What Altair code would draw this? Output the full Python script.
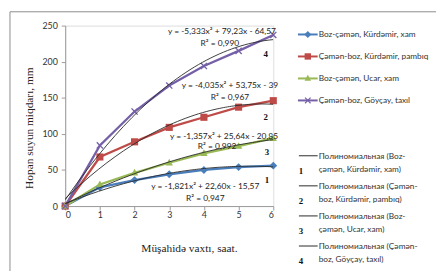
import altair as alt
import pandas as pd

# ---- data ----
hours = [0, 1, 2, 3, 4, 5, 6]
series = ["Boz-çəmən, Kürdəmir, xam", "Çəmən-boz, Kürdəmir, pambıq",
          "Boz-çəmən, Ucar, xam", "Çəmən-boz, Göyçay, taxıl"]
s1 = [0, 26, 36, 44, 50, 54, 56]
s2 = [0, 68, 89, 109, 123, 137, 146]
s3 = [0, 30, 46, 60, 73, 83, 94]
s4 = [0, 84, 131, 167, 194, 215, 237]
values = [s1, s2, s3, s4]
trend_names = ["Полиномиальная (" + s + ")" for s in series]
colors = ["#4a7ebb", "#be4b48", "#98b954", "#7560a8"]
y_ticks = [0, 50, 100, 150, 200, 250]

eq_texts = ["y = -5,333x² + 79,23x - 64,57", "R² = 0,990",
            "y = -4,035x² + 53,75x - 39", "R² = 0,967",
            "y = -1,357x² + 25,64x - 20,85", "R² = 0,992",
            "y = -1,821x² + 22,60x - 15,57", "R² = 0,947"]
eq_x = [4.52, 4.46, 4.75, 4.75, 4.58, 4.38, 4.04, 4.04]
eq_y = [243, 226, 167, 151, 97, 83, 28, 11]
num_texts = ["4", "2", "3", "1"]
num_x = [5.78, 5.78, 5.82, 5.82]
num_y = [210, 123, 75, 36]
leg_nums = ["1", "2", "3", "4"]
x_title = "Müşahidə vaxtı, saat."
y_title = "Hopan suyun miqdarı, mm"

rows = []
for name, tname, vals in zip(series, trend_names, values):
    for h, v in zip(hours, vals):
        rows.append({"hour": h, "value": v, "series": name, "trend": tname})
df = pd.DataFrame(rows)
eq_df = pd.DataFrame({"t": eq_texts, "hour": eq_x, "value": eq_y})
num_df = pd.DataFrame({"t": num_texts, "hour": num_x, "value": num_y})

# marker shapes
shape_paths = [
    "M0,-1L1,0L0,1L-1,0Z",
    "M-1,-1L1,-1L1,1L-1,1Z",
    "M0,-1.05L0.95,0.7L-0.95,0.7Z",
    "M-1,-0.74L-0.74,-1L0,-0.26L0.74,-1L1,-0.74L0.26,0L1,0.74L0.74,1L0,0.26L-0.74,1L-1,0.74L-0.26,0Z",
]
marker_sizes = [64, 52, 60, 52]

W, H = 211, 183
SANS = "Lato"
SERIF = "Liberation Serif"
ONE = alt.Data(values=[{"a": 1}])

xenc = alt.X("hour:Q", scale=alt.Scale(domain=[0, 6], nice=False),
             axis=alt.Axis(values=hours, format="d", grid=False, domainColor="#9a9a9a",
                           tickColor="#9a9a9a", tickSize=4, labelFont=SANS, labelFontSize=9,
                           labelColor="#333", labelPadding=1, labelOverlap=False, title=None))
yenc = alt.Y("value:Q", scale=alt.Scale(domain=[0, 250], nice=False),
             axis=alt.Axis(values=y_ticks, grid=False, domainColor="#9a9a9a",
                           tickColor="#9a9a9a", tickSize=4, labelFont=SANS, labelFontSize=9,
                           labelColor="#333", labelPadding=4, labelOverlap=False, title=None))

base = alt.Chart(df)

frame = alt.Chart(ONE).mark_rect(
    fill=None, stroke="#8c8c8c", strokeWidth=1, clip=False
).encode(x=alt.value(-56), x2=alt.value(420), y=alt.value(-14), y2=alt.value(400))

lines = base.mark_line(strokeWidth=2.3).encode(
    x=xenc, y=yenc,
    color=alt.Color("series:N", scale=alt.Scale(domain=series, range=colors), legend=None),
)

point_layers = []
for name, col, path, sz in zip(series, colors, shape_paths, marker_sizes):
    point_layers.append(
        base.transform_filter(alt.datum.series == name).mark_point(
            filled=True, size=sz, shape=path, color=col, opacity=1, strokeWidth=0
        ).encode(x=xenc, y=yenc)
    )

trend = base.transform_regression(
    "hour", "value", groupby=["series", "trend"], method="poly", order=2
).mark_line(color="#2a2a2a", strokeWidth=0.9, clip=True).encode(
    x=xenc, y=yenc, detail="trend:N")

eqs = alt.Chart(eq_df).mark_text(font=SANS, fontSize=8.5, color="#222").encode(
    x=xenc, y=yenc, text="t:N")
nums = alt.Chart(num_df).mark_text(font=SERIF, fontSize=9, fontWeight="bold",
                                   color="#111").encode(x=xenc, y=yenc, text="t:N")

titles = [
    alt.Chart(ONE).mark_text(text=x_title, font=SERIF, fontSize=11.5, color="#222",
                             align="center", baseline="middle", clip=False).encode(
        x=alt.value(126), y=alt.value(227)),
    alt.Chart(ONE).mark_text(text=y_title, font=SERIF, fontSize=11.5, color="#222",
                             angle=270, align="center", baseline="middle", clip=False).encode(
        x=alt.value(-36), y=alt.value(104)),
]

# legend block 1: series (line + marker + label)
leg = []
for i, (name, col, path, sz) in enumerate(zip(series, colors, shape_paths, marker_sizes)):
    yy = 9 + 22.3 * i
    leg.append(alt.Chart(ONE).mark_rule(color=col, strokeWidth=2, clip=False).encode(
        x=alt.value(236), x2=alt.value(256), y=alt.value(yy)))
    leg.append(alt.Chart(ONE).mark_point(filled=True, size=sz * 0.8, shape=path, color=col,
                                         opacity=1, strokeWidth=0, clip=False).encode(
        x=alt.value(246), y=alt.value(yy)))
    leg.append(alt.Chart(ONE).mark_text(text=name, font=SANS, fontSize=8.4, color="#333",
                                        align="left", baseline="middle", clip=False).encode(
        x=alt.value(257), y=alt.value(yy)))

# legend block 2: polynomial trend lines (two-line labels + numbers)
for i, (tname, num) in enumerate(zip(trend_names, leg_nums)):
    yy = 132 + 30.5 * i
    cut = tname.index("-") + 1
    leg.append(alt.Chart(ONE).mark_rule(color="#2a2a2a", strokeWidth=1, clip=False).encode(
        x=alt.value(237), x2=alt.value(256), y=alt.value(yy)))
    leg.append(alt.Chart(ONE).mark_text(text=tname[:cut], font=SANS, fontSize=8.4, color="#333",
                                        align="left", baseline="middle", clip=False).encode(
        x=alt.value(257), y=alt.value(yy)))
    leg.append(alt.Chart(ONE).mark_text(text=tname[cut:], font=SANS, fontSize=8.4, color="#333",
                                        align="left", baseline="middle", clip=False).encode(
        x=alt.value(257), y=alt.value(yy + 13)))
    leg.append(alt.Chart(ONE).mark_text(text=num, font=SERIF, fontSize=9, fontWeight="bold",
                                        color="#111", align="center", baseline="middle",
                                        clip=False).encode(
        x=alt.value(239), y=alt.value(yy + 15)))

chart = alt.layer(frame, lines, *point_layers, trend, eqs, nums, *titles, *leg).properties(
    width=W, height=H,
    autosize=alt.AutoSizeParams(type="none"),
    padding={"left": 58, "top": 16, "right": 165, "bottom": 64},
).configure_view(stroke=None).configure(background="white")

chart.save("out.html", embed_options={"renderer": "svg", "actions": False})
